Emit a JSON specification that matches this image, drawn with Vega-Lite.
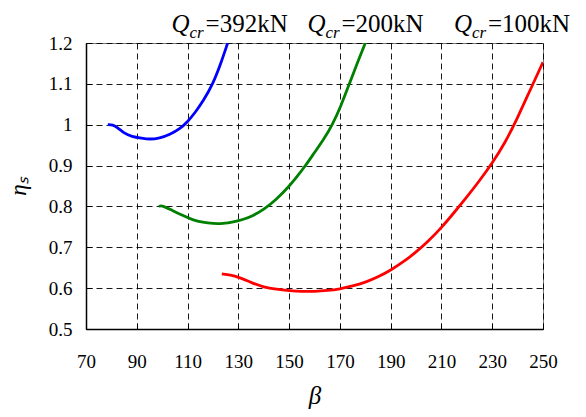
{
  "$schema": "https://vega.github.io/schema/vega-lite/v6.json",
  "width": 457,
  "height": 286,
  "autosize": "none",
  "padding": {"left": 86, "top": 43, "right": 43, "bottom": 88},
  "background": "white",
  "config": {
    "view": {"stroke": "#777", "strokeWidth": 1},
    "font": "Liberation Serif",
    "style": {
      "guide-label": {"font": "Liberation Serif", "fill": "black", "fontSize": 19},
      "guide-title": {"font": "Liberation Serif", "fill": "black"}
    },
    "axis": {
      "labelFont": "Liberation Serif",
      "titleFont": "Liberation Serif",
      "labelColor": "black",
      "titleColor": "black",
      "labelFontSize": 19,
      "domainColor": "black",
      "domainWidth": 1.5,
      "tickColor": "black",
      "tickSize": -6,
      "gridColor": "black",
      "gridDash": [6, 4],
      "gridWidth": 1,
      "gridOpacity": 0.9
    }
  },
  "datasets": {
    "curves": [
      {"beta": 78.6, "eta": 1.0, "q": "392"},
      {"beta": 80.5, "eta": 1.0, "q": "392"},
      {"beta": 82.5, "eta": 0.993, "q": "392"},
      {"beta": 85, "eta": 0.979, "q": "392"},
      {"beta": 88, "eta": 0.971, "q": "392"},
      {"beta": 92, "eta": 0.967, "q": "392"},
      {"beta": 95, "eta": 0.964, "q": "392"},
      {"beta": 99, "eta": 0.967, "q": "392"},
      {"beta": 103, "eta": 0.976, "q": "392"},
      {"beta": 107, "eta": 0.99, "q": "392"},
      {"beta": 110, "eta": 1.007, "q": "392"},
      {"beta": 113, "eta": 1.03, "q": "392"},
      {"beta": 116, "eta": 1.056, "q": "392"},
      {"beta": 120, "eta": 1.1, "q": "392"},
      {"beta": 123, "eta": 1.148, "q": "392"},
      {"beta": 125.8, "eta": 1.2, "q": "392"},
      {"beta": 98.7, "eta": 0.8, "q": "200"},
      {"beta": 100, "eta": 0.803, "q": "200"},
      {"beta": 104, "eta": 0.79, "q": "200"},
      {"beta": 108, "eta": 0.778, "q": "200"},
      {"beta": 112, "eta": 0.767, "q": "200"},
      {"beta": 116, "eta": 0.761, "q": "200"},
      {"beta": 120, "eta": 0.758, "q": "200"},
      {"beta": 124, "eta": 0.758, "q": "200"},
      {"beta": 128, "eta": 0.762, "q": "200"},
      {"beta": 132, "eta": 0.768, "q": "200"},
      {"beta": 136, "eta": 0.778, "q": "200"},
      {"beta": 140, "eta": 0.792, "q": "200"},
      {"beta": 145, "eta": 0.817, "q": "200"},
      {"beta": 150, "eta": 0.849, "q": "200"},
      {"beta": 153, "eta": 0.872, "q": "200"},
      {"beta": 156.5, "eta": 0.9, "q": "200"},
      {"beta": 160, "eta": 0.932, "q": "200"},
      {"beta": 163.5, "eta": 0.963, "q": "200"},
      {"beta": 167, "eta": 0.999, "q": "200"},
      {"beta": 170.5, "eta": 1.047, "q": "200"},
      {"beta": 173.7, "eta": 1.1, "q": "200"},
      {"beta": 177, "eta": 1.153, "q": "200"},
      {"beta": 180, "eta": 1.2, "q": "200"},
      {"beta": 123.5, "eta": 0.635, "q": "100"},
      {"beta": 127, "eta": 0.632, "q": "100"},
      {"beta": 130, "eta": 0.627, "q": "100"},
      {"beta": 135, "eta": 0.614, "q": "100"},
      {"beta": 140, "eta": 0.602, "q": "100"},
      {"beta": 145, "eta": 0.597, "q": "100"},
      {"beta": 150, "eta": 0.594, "q": "100"},
      {"beta": 155, "eta": 0.592, "q": "100"},
      {"beta": 160, "eta": 0.592, "q": "100"},
      {"beta": 165, "eta": 0.594, "q": "100"},
      {"beta": 170, "eta": 0.598, "q": "100"},
      {"beta": 175, "eta": 0.605, "q": "100"},
      {"beta": 180, "eta": 0.614, "q": "100"},
      {"beta": 185, "eta": 0.627, "q": "100"},
      {"beta": 190, "eta": 0.644, "q": "100"},
      {"beta": 195, "eta": 0.664, "q": "100"},
      {"beta": 200, "eta": 0.688, "q": "100"},
      {"beta": 205, "eta": 0.716, "q": "100"},
      {"beta": 210, "eta": 0.748, "q": "100"},
      {"beta": 215, "eta": 0.785, "q": "100"},
      {"beta": 220, "eta": 0.823, "q": "100"},
      {"beta": 225, "eta": 0.863, "q": "100"},
      {"beta": 230, "eta": 0.906, "q": "100"},
      {"beta": 235, "eta": 0.955, "q": "100"},
      {"beta": 240, "eta": 1.017, "q": "100"},
      {"beta": 245, "eta": 1.086, "q": "100"},
      {"beta": 250, "eta": 1.153, "q": "100"}
    ],
    "labels": [
      {"beta": 103.7, "eta": 1.2267, "txt": "=392kN"},
      {"beta": 157.2, "eta": 1.2267, "txt": "=200kN"},
      {"beta": 214.9, "eta": 1.2267, "txt": "=100kN"}
    ]
  },
  "layer": [
    {
      "data": {"name": "curves"},
      "mark": {"type": "line", "strokeWidth": 2.8, "clip": true, "interpolate": "basis"},
      "encoding": {
        "x": {
          "field": "beta", "type": "quantitative",
          "scale": {"domain": [70, 250], "nice": false, "zero": false},
          "axis": {
            "values": [70, 90, 110, 130, 150, 170, 190, 210, 230, 250],
            "title": "β",
            "titleFont": "Liberation Serif",
            "titleFontSize": 25,
            "titleFontStyle": "italic",
            "titleFontWeight": "normal",
            "titlePadding": 12,
            "labelFont": "Liberation Serif",
            "labelPadding": 29,
            "labelFlush": false
          }
        },
        "y": {
          "field": "eta", "type": "quantitative",
          "scale": {"domain": [0.5, 1.2], "nice": false, "zero": false},
          "axis": {
            "values": [0.5, 0.6, 0.7, 0.8, 0.9, 1.0, 1.1, 1.2],
            "format": ".1~f",
            "title": "ηₛ",
            "titleFont": "Liberation Serif",
            "titleFontSize": 23,
            "titleFontStyle": "italic",
            "titleFontWeight": "normal",
            "titlePadding": 18,
            "labelFont": "Liberation Serif",
            "labelPadding": 20,
            "labelFlush": false
          }
        },
        "color": {
          "field": "q", "type": "nominal",
          "scale": {"domain": ["392", "200", "100"], "range": ["#0000FF", "#008000", "#FF0000"]},
          "legend": null
        }
      }
    },
    {
      "data": {"name": "labels"},
      "mark": {"type": "text", "font": "Liberation Serif", "fontSize": 25, "fontStyle": "italic", "align": "left", "baseline": "alphabetic", "color": "black"},
      "encoding": {
        "x": {"field": "beta", "type": "quantitative"},
        "y": {"field": "eta", "type": "quantitative"},
        "text": {"value": "Q"}
      }
    },
    {
      "data": {"name": "labels"},
      "mark": {"type": "text", "font": "Liberation Serif", "fontSize": 17, "fontStyle": "italic", "align": "left", "baseline": "alphabetic", "dx": 18, "dy": 5.5, "color": "black"},
      "encoding": {
        "x": {"field": "beta", "type": "quantitative"},
        "y": {"field": "eta", "type": "quantitative"},
        "text": {"value": "cr"}
      }
    },
    {
      "data": {"name": "labels"},
      "mark": {"type": "text", "font": "Liberation Serif", "fontSize": 25, "align": "left", "baseline": "alphabetic", "dx": 34, "color": "black"},
      "encoding": {
        "x": {"field": "beta", "type": "quantitative"},
        "y": {"field": "eta", "type": "quantitative"},
        "text": {"field": "txt"}
      }
    }
  ]
}
